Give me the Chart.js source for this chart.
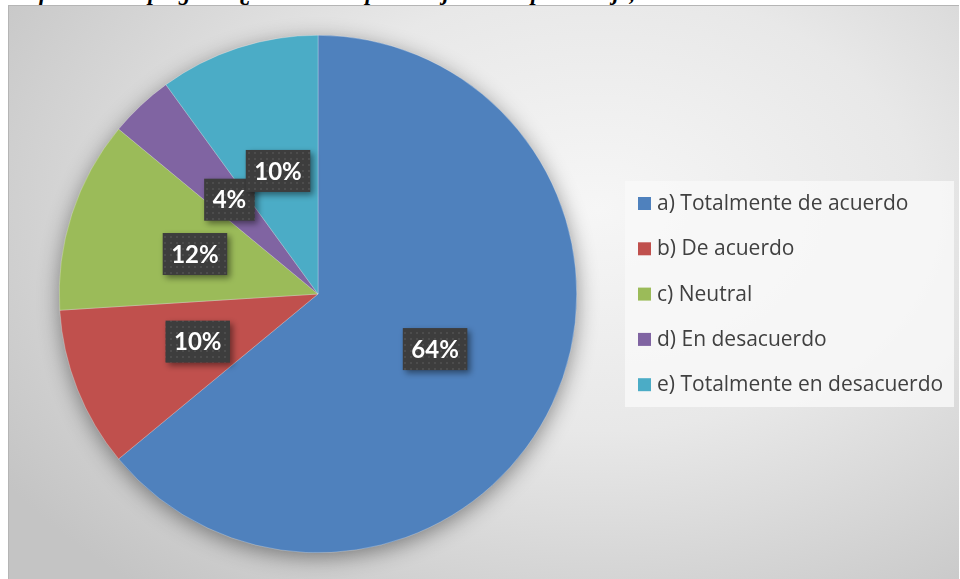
<!DOCTYPE html>
<html>
<head>
<meta charset="utf-8">
<script src="https://cdn.jsdelivr.net/npm/chart.js@4"></script>
<style>
  body { margin: 0; background: #fff; overflow: hidden; }
  #wrap { position: relative; width: 960px; height: 579px; overflow: hidden; }
  #title { position: absolute; left: 2px; top: -20px; width: 1200px; white-space: nowrap;
    font: italic bold 23px "Liberation Serif", serif; color: #000; }
  #frame { position: absolute; left: 8px; top: 5px; width: 950px; height: 580px;
    border-top: 1px solid #b5b5b5; border-left: 1px solid #b5b5b5;
    background: radial-gradient(ellipse 75% 85% at 62% 35%, #f6f6f6 0%, #e8e8e8 45%, #c4c4c4 100%); }
  #chart { position: absolute; left: 0; top: 0; }
</style>
</head>
<body>
<div id="wrap">
  <div id="title">Gráfico 14: La pregunta ¿Cuál es útil para mejorar la aprendizaje, el docente o el estudiante?</div>
  <div id="frame"></div>
  <canvas id="chart" width="960" height="579"></canvas>
</div>
<script>
let labels = ["a) Totalmente de acuerdo", "b) De acuerdo", "c) Neutral", "d) En desacuerdo", "e) Totalmente en desacuerdo"];
let values = [64, 10, 12, 4, 10];
let colors = ["#4f81bd", "#c0504d", "#9bbb59", "#8064a2", "#4bacc6"];

// dotted dark pattern for the data label boxes
function makePattern(ctx) {
    let p = document.createElement("canvas");
    p.width = 6; p.height = 6;
    let pc = p.getContext("2d");
    pc.fillStyle = "#3d3d3d";
    pc.fillRect(0, 0, 6, 6);
    pc.fillStyle = "#4c4c4c";
    pc.fillRect(2, 2, 2, 2);
    return ctx.createPattern(p, "repeat");
}

const pieShadow = {
    id: "pieShadow",
    beforeDatasetsDraw(chart) {
        let arc = chart.getDatasetMeta(0).data[0];
        if (!arc) return;
        let ctx = chart.ctx;
        ctx.save();
        ctx.shadowColor = "rgba(0,0,0,0.45)";
        ctx.shadowBlur = 22;
        ctx.shadowOffsetY = 5;
        ctx.fillStyle = "#888";
        ctx.beginPath();
        ctx.arc(arc.x, arc.y, arc.outerRadius - 1, 0, Math.PI * 2);
        ctx.fill();
        ctx.restore();
    }
};

const boxLabels = {
    id: "boxLabels",
    afterDatasetsDraw(chart) {
        let ctx = chart.ctx;
        let pattern = makePattern(ctx);
        let total = values.reduce((a, b) => a + b, 0);
        ctx.save();
        ctx.font = "bold 24px Lato";
        ctx.textAlign = "center";
        ctx.textBaseline = "middle";
        chart.getDatasetMeta(0).data.forEach((arc, i) => {
            let pos = arc.tooltipPosition();
            let text = Math.round(values[i] / total * 100) + "%";
            let w = ctx.measureText(text).width + 17;
            let h = 42;
            ctx.save();
            ctx.shadowColor = "rgba(0,0,0,0.45)";
            ctx.shadowBlur = 6;
            ctx.shadowOffsetX = 3;
            ctx.shadowOffsetY = 3;
            ctx.fillStyle = pattern;
            ctx.fillRect(pos.x - w / 2, pos.y - h / 2, w, h);
            ctx.restore();
            ctx.fillStyle = "#ffffff";
            ctx.fillText(text, pos.x, pos.y + 1);
        });
        ctx.restore();
    }
};

const sideLegend = {
    id: "sideLegend",
    afterDraw(chart) {
        let ctx = chart.ctx;
        ctx.save();
        ctx.fillStyle = "rgba(248,248,248,0.85)";
        ctx.fillRect(625, 181, 329, 226);
        ctx.font = "21px 'Open Sans'";
        ctx.textBaseline = "middle";
        labels.forEach((lab, i) => {
            let y = 204 + i * 45.3;
            ctx.fillStyle = colors[i];
            ctx.fillRect(638, y - 7, 13, 13);
            ctx.fillStyle = "#404040";
            ctx.fillText(lab, 657, y);
        });
        ctx.restore();
    }
};

let config = {
    type: "pie",
    data: {
        labels: labels,
        datasets: [
            {
                data: values,
                backgroundColor: colors,
                borderColor: "rgba(255,255,255,0.5)",
                borderWidth: 0.5,
                hoverOffset: 0
            }
        ]
    },
    options: {
        responsive: false,
        animation: false,
        layout: {
            padding: { left: 59, right: 383, top: 35, bottom: 26 }
        },
        plugins: {
            legend: { display: false },
            tooltip: { enabled: false }
        }
    },
    plugins: [pieShadow, boxLabels, sideLegend]
};

let ctx = document.getElementById("chart").getContext("2d");
let myChart = new Chart(ctx, config);
</script>
</body>
</html>
